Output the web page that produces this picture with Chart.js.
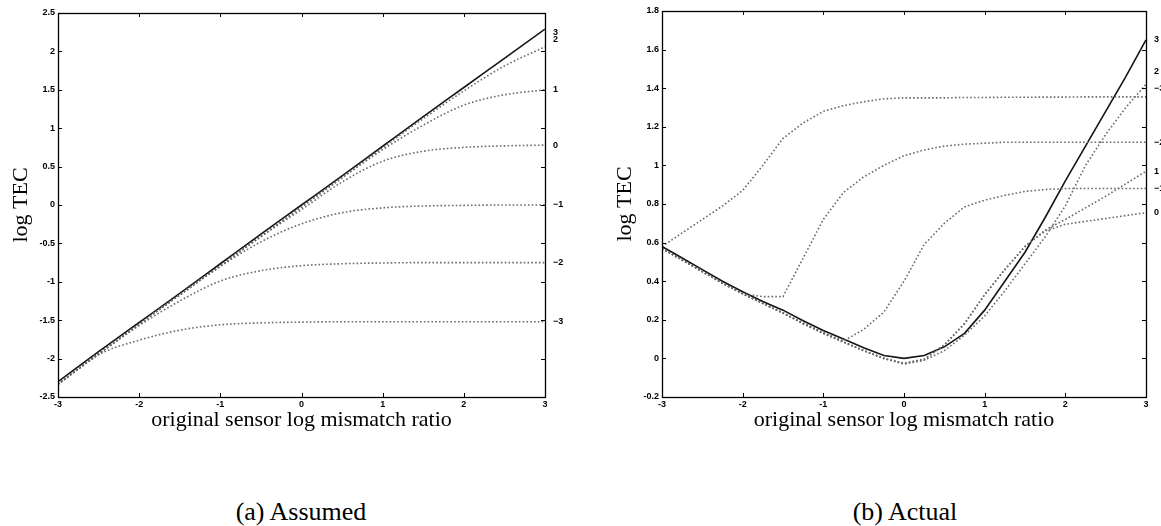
<!DOCTYPE html>
<html>
<head>
<meta charset="utf-8">
<script src="https://cdn.jsdelivr.net/npm/chart.js@4.4.1/dist/chart.umd.min.js"></script>
<style>
  body { margin: 0; background: #fff; width: 1161px; height: 526px; overflow: hidden; position: relative; font-family: "Liberation Serif", serif; }
  .box { position: absolute; top: 0; height: 440px; }
  #leftBox { left: 0; width: 580px; }
  #rightBox { left: 580px; width: 581px; }
  .cap { position: absolute; top: 497px; width: 300px; text-align: center; font-size: 26px; line-height: 30px; color: #000; }
</style>
</head>
<body>
<div id="leftBox" class="box"><canvas id="assumedChart"></canvas></div>
<div id="rightBox" class="box"><canvas id="actualChart"></canvas></div>
<div class="cap" style="left:151px">(a) Assumed</div>
<div class="cap" style="left:755px">(b) Actual</div>
<script>
// --- data: (a) assumed ---
const assumedX = [-3, -2.5, -2, -1.5, -1, -0.5, 0, 0.5, 1, 1.5, 2, 2.5, 3];
const assumed3 = [-2.3, -1.91, -1.53, -1.15, -0.765, -0.38, 0, 0.38, 0.765, 1.15, 1.53, 1.91, 2.29];
const assumed2 = [-2.33, -1.94, -1.55, -1.17, -0.79, -0.41, -0.025, 0.355, 0.745, 1.125, 1.485, 1.81, 2.06];
const assumed1 = [-2.33, -1.94, -1.55, -1.17, -0.79, -0.41, -0.03, 0.355, 0.72, 1.04, 1.3, 1.435, 1.5];
const assumed0 = [-2.33, -1.94, -1.55, -1.17, -0.79, -0.41, -0.06, 0.3, 0.57, 0.7, 0.75, 0.77, 0.78];
const assumedM1 = [-2.33, -1.94, -1.55, -1.17, -0.8, -0.48, -0.245, -0.1, -0.037, -0.013, -0.005, 0, 0];
const assumedM2 = [-2.33, -1.94, -1.57, -1.25, -0.99, -0.855, -0.79, -0.765, -0.755, -0.75, -0.75, -0.75, -0.75];
const assumedM3 = [-2.34, -1.95, -1.76, -1.63, -1.56, -1.535, -1.525, -1.52, -1.52, -1.52, -1.52, -1.52, -1.52];

// --- data: (b) actual ---
const actualX = [-3, -2.75, -2.5, -2.25, -2, -1.75, -1.5, -1.25, -1, -0.75, -0.5, -0.25, 0,
                 0.25, 0.5, 0.75, 1, 1.25, 1.5, 1.75, 2, 2.25, 2.5, 2.75, 3];
const actual3 = [0.58, 0.52, 0.46, 0.4, 0.345, 0.295, 0.25, 0.195, 0.145, 0.1, 0.055, 0.015, 0,
                 0.015, 0.06, 0.13, 0.25, 0.4, 0.55, 0.73, 0.92, 1.1, 1.28, 1.46, 1.65];
const actual2 = [0.57, 0.51, 0.45, 0.39, 0.335, 0.285, 0.235, 0.18, 0.13, 0.085, 0.04, 0, -0.03,
                 -0.01, 0.04, 0.12, 0.22, 0.35, 0.49, 0.63, 0.79, 1.0, 1.16, 1.3, 1.42];
const actual1 = [0.57, 0.51, 0.45, 0.39, 0.335, 0.285, 0.235, 0.18, 0.13, 0.085, 0.04, 0, -0.025,
                 -0.005, 0.07, 0.18, 0.33, 0.46, 0.58, 0.665, 0.72, 0.78, 0.84, 0.905, 0.97];
const actual0 = [0.57, 0.51, 0.45, 0.39, 0.335, 0.285, 0.235, 0.18, 0.13, 0.085, 0.04, 0, -0.025,
                 -0.005, 0.07, 0.18, 0.33, 0.46, 0.58, 0.66, 0.695, 0.71, 0.725, 0.74, 0.755];
const actualM1 = [0.57, 0.51, 0.45, 0.39, 0.335, 0.285, 0.235, 0.185, 0.135, 0.09, 0.15, 0.24, 0.4,
                  0.59, 0.7, 0.785, 0.82, 0.845, 0.865, 0.875, 0.88, 0.88, 0.88, 0.88, 0.88];
const actualM2 = [0.57, 0.51, 0.45, 0.39, 0.335, 0.32, 0.32, 0.52, 0.72, 0.86, 0.94, 1.0, 1.05,
                  1.08, 1.1, 1.11, 1.115, 1.12, 1.12, 1.12, 1.12, 1.12, 1.12, 1.12, 1.12];
const actualM3 = [0.58, 0.65, 0.72, 0.79, 0.87, 1.0, 1.14, 1.22, 1.28, 1.31, 1.33, 1.345, 1.35,
                  1.35, 1.35, 1.352, 1.352, 1.353, 1.353, 1.354, 1.354, 1.355, 1.355, 1.355, 1.355];

const xTickValues = [-3, -2, -1, 0, 1, 2, 3];

const toPoints = (xs, ys) => xs.map((v, i) => ({ x: v, y: ys[i] }));

function dotted(label, xs, ys, smooth) {
  return {
    label: label, data: toPoints(xs, ys),
    borderColor: "#6a6a6a", borderWidth: 1.6, borderDash: [1.6, 2.2],
    pointRadius: 0, tension: 0, cubicInterpolationMode: smooth ? "monotone" : "default",
  };
}
function solid(label, xs, ys, smooth) {
  return {
    label: label, data: toPoints(xs, ys),
    borderColor: "#151515", borderWidth: 1.6,
    pointRadius: 0, tension: 0, cubicInterpolationMode: smooth ? "monotone" : "default",
  };
}

// frame, inward ticks and curve labels at the right edge
const matlabFrame = {
  id: "matlabFrame",
  afterDraw(chart, args, opts) {
    const { ctx, chartArea: a } = chart;
    const x = chart.scales.x, y = chart.scales.y;
    ctx.save();
    ctx.strokeStyle = "#000";
    ctx.lineWidth = 1;
    ctx.beginPath();
    x.ticks.forEach(t => {
      const px = Math.round(x.getPixelForValue(t.value)) + 0.5;
      ctx.moveTo(px, a.bottom); ctx.lineTo(px, a.bottom - 4);
      ctx.moveTo(px, a.top); ctx.lineTo(px, a.top + 4);
    });
    y.ticks.forEach(t => {
      const py = Math.round(y.getPixelForValue(t.value)) + 0.5;
      ctx.moveTo(a.left, py); ctx.lineTo(a.left + 4, py);
      ctx.moveTo(a.right, py); ctx.lineTo(a.right - 4, py);
    });
    ctx.stroke();
    ctx.lineWidth = 1.3;
    ctx.strokeRect(Math.round(a.left) + 0.5, Math.round(a.top) + 0.5,
                   Math.round(a.right - a.left), Math.round(a.bottom - a.top));
    ctx.fillStyle = "#000";
    ctx.font = "bold 9px 'Liberation Sans'";
    ctx.textAlign = "left";
    ctx.textBaseline = "middle";
    chart.data.datasets.forEach(ds => {
      const last = ds.data[ds.data.length - 1];
      const py = y.getPixelForValue(last.y) + ((opts.nudge || {})[ds.label] || 0);
      ctx.fillText(ds.label, a.right + 8, py);
    });
    ctx.restore();
  }
};

function makeOptions(yMin, yMax, yStep, yWidth, padRight, padTop, yTitlePad, nudge) {
  const tickFont = { family: "Liberation Sans", size: 9, weight: "bold" };
  return {
    responsive: true, maintainAspectRatio: false, animation: false,
    layout: { padding: { left: 0, right: padRight, top: padTop, bottom: 0 } },
    plugins: { legend: { display: false }, tooltip: { enabled: false }, matlabFrame: { nudge: nudge } },
    scales: {
      x: {
        type: "linear", min: -3, max: 3,
        afterFit: s => { s.height = 43; },
        afterBuildTicks: s => { s.ticks = xTickValues.map(v => ({ value: v })); },
        grid: { display: false, drawTicks: false }, border: { display: false },
        ticks: { font: tickFont, color: "#000", padding: 2, maxRotation: 0 },
        title: { display: true, text: "original sensor log mismatch ratio", color: "#000",
                 font: { family: "Liberation Serif", size: 22 }, padding: { top: 0, bottom: 7 } },
      },
      y: {
        min: yMin, max: yMax,
        afterFit: s => { s.width = yWidth; },
        grid: { display: false, drawTicks: false }, border: { display: false },
        ticks: { stepSize: yStep, font: tickFont, color: "#000", padding: 3,
                 callback: v => String(Math.round(v * 10) / 10) },
        title: { display: true, text: "log TEC", color: "#000",
                 font: { family: "Liberation Serif", size: 22 }, padding: { top: yTitlePad, bottom: 0 } },
      },
    },
  };
}

// (a) Assumed
new Chart(document.getElementById("assumedChart"), {
  type: "line",
  data: {
    datasets: [
      dotted("2", assumedX, assumed2, true),
      dotted("1", assumedX, assumed1, true),
      dotted("0", assumedX, assumed0, true),
      dotted("\u22121", assumedX, assumedM1, true),
      dotted("\u22122", assumedX, assumedM2, true),
      dotted("\u22123", assumedX, assumedM3, true),
      solid("3", assumedX, assumed3, true),
    ],
  },
  options: makeOptions(-2.5, 2.5, 0.5, 58, 35, 13, 8, { "3": 3, "2": -7 }),
  plugins: [matlabFrame],
});

// (b) Actual
new Chart(document.getElementById("actualChart"), {
  type: "line",
  data: {
    datasets: [
      dotted("2", actualX, actual2, false),
      dotted("1", actualX, actual1, false),
      dotted("0", actualX, actual0, false),
      dotted("\u22121", actualX, actualM1, false),
      dotted("\u22122", actualX, actualM2, false),
      dotted("\u22123", actualX, actualM3, false),
      solid("3", actualX, actual3, false),
    ],
  },
  options: makeOptions(-0.2, 1.8, 0.2, 82, 15, 11, 32, { "2": -13, "\u22123": -8 }),
  plugins: [matlabFrame],
});
</script>
</body>
</html>
